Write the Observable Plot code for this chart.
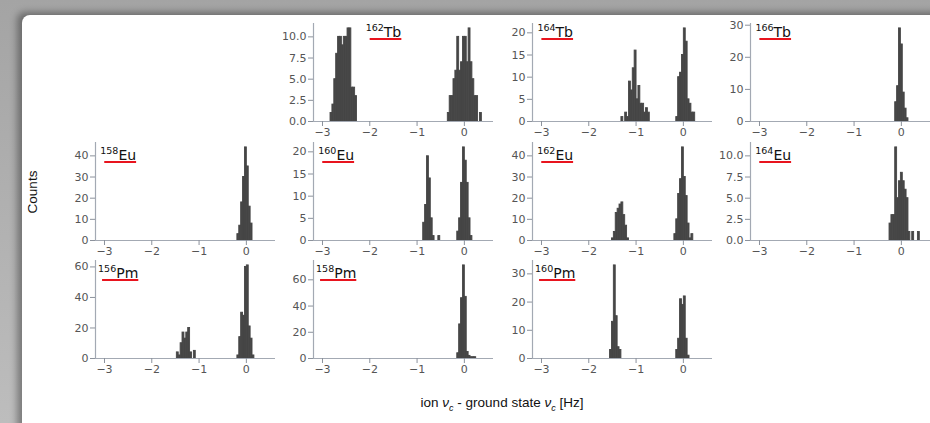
<!DOCTYPE html>
<html><head><meta charset="utf-8">
<script src="https://cdn.jsdelivr.net/npm/d3@7"></script>
<script src="https://cdn.jsdelivr.net/npm/@observablehq/plot@0.6"></script>
<style>
body{margin:0;background:#fff;}
#outer{position:relative;width:930px;height:423px;overflow:hidden;background:linear-gradient(#a4a4a4,#bdbdbd);}
#page{position:absolute;left:22px;top:15px;width:930px;height:430px;background:#fff;border-top-left-radius:8px;box-shadow:-5px -3px 7px rgba(0,0,0,0.35);}
.panel{position:absolute;}
.lab{position:absolute;font-family:"Liberation Sans",Arial,sans-serif;font-size:13.5px;color:#111;white-space:nowrap;}
</style></head><body>
<div id="outer"><div id="page"></div>
<div class="lab" id="ylab" style="left:32px;top:192px;transform:translate(-50%,-50%) rotate(-90deg);">Counts</div>
<div class="lab" id="xlab" style="left:502px;top:404px;transform:translate(-50%,-50%);">ion <i>ν</i><sub style="font-size:9px;"><i>c</i></sub> - ground state <i>ν</i><sub style="font-size:9px;"><i>c</i></sub> [Hz]</div>
</div>
<script>
const binWidth = 0.04;
const xTicks = [-3, -2, -1, 0];

// bin left edges (Hz) and counts
const tb162_x = [-2.83,-2.79,-2.75,-2.71,-2.67,-2.63,-2.59,-2.55,-2.51,-2.47,-2.43,-2.39,-2.35,-2.31,-0.35,-0.31,-0.27,-0.23,-0.19,-0.15,-0.11,-0.07,-0.03,0.01,0.05,0.09,0.13,0.17,0.21,0.25,0.33];
const tb162_n = [1,2,5,8,10,10,9,10,10,11,11,4,4,3,1,3,3,5,6,10,6,7,10,10,7,11,7,5,3,3,1];

const tb164_x = [-1.31,-1.23,-1.19,-1.15,-1.11,-1.07,-1.03,-0.99,-0.95,-0.91,-0.87,-0.83,-0.79,-0.75,-0.15,-0.11,-0.07,-0.03,0.01,0.05,0.09,0.13,0.17,0.21];
const tb164_n = [1,2,1,9,7,12,16,5,8,4,4,2,3,2,1,10,11,15,21,18,5,4,2,2];

const tb166_x = [-0.13,-0.09,-0.05,-0.01,0.03,0.07,0.11];
const tb166_n = [6,11,29,24,9,4,1];

const eu158_x = [-0.19,-0.15,-0.11,-0.07,-0.03,0.01,0.05,0.09];
const eu158_n = [3,7,18,30,44,35,16,8];

const eu160_x = [-0.87,-0.83,-0.79,-0.75,-0.71,-0.67,-0.55,-0.15,-0.11,-0.07,-0.03,0.01,0.05,0.09,0.13];
const eu160_n = [4,8,19,14,5,1,1,2,5,13,21,18,13,5,1];

const eu162_x = [-1.51,-1.47,-1.43,-1.39,-1.35,-1.31,-1.27,-1.23,-1.19,-0.19,-0.15,-0.11,-0.07,-0.03,0.01,0.05,0.09,0.13,0.17];
const eu162_n = [1,4,13,15,17,18,12,7,1,3,10,22,29,44,30,21,8,1,3];

const eu164_x = [-0.25,-0.21,-0.17,-0.13,-0.09,-0.05,-0.01,0.03,0.07,0.11,0.15,0.23,0.35];
const eu164_n = [2,3,3,11,5,7,8,7,6,5,1,1,1];

const pm156_x = [-1.47,-1.43,-1.39,-1.35,-1.31,-1.27,-1.23,-1.19,-1.11,-0.19,-0.15,-0.11,-0.07,-0.03,0.01,0.05,0.09,0.13];
const pm156_n = [4,2,10,17,13,17,20,4,5,2,14,30,28,60,61,21,13,2];

const pm158_x = [-0.15,-0.11,-0.07,-0.03,0.01,0.05,0.09,0.13,0.17,0.21];
const pm158_n = [4,26,46,71,47,5,2,1,1,1];

const pm160_x = [-1.55,-1.51,-1.47,-1.43,-1.39,-1.35,-0.15,-0.11,-0.07,-0.03,0.01,0.05,0.09];
const pm160_n = [3,13,33,15,4,3,3,7,21,19,22,7,1];

// panel layout: [mass, element, row, col, xs, ns, yTicks, yFormat, labelX]
const panels = [
  ["162","Tb",0,1,tb162_x,tb162_n,[0,2.5,5,7.5,10],".1f",-1.7],
  ["164","Tb",0,2,tb164_x,tb164_n,[0,5,10,15,20],"d",-2.7],
  ["166","Tb",0,3,tb166_x,tb166_n,[0,10,20,30],"d",-2.7],
  ["158","Eu",1,0,eu158_x,eu158_n,[0,10,20,30,40],"d",-2.7],
  ["160","Eu",1,1,eu160_x,eu160_n,[0,5,10,15,20],"d",-2.7],
  ["162","Eu",1,2,eu162_x,eu162_n,[0,10,20,30,40],"d",-2.7],
  ["164","Eu",1,3,eu164_x,eu164_n,[0,2.5,5,7.5,10],".1f",-2.7],
  ["156","Pm",2,0,pm156_x,pm156_n,[0,20,40,60],"d",-2.7],
  ["158","Pm",2,1,pm158_x,pm158_n,[0,20,40,60],"d",-2.7],
  ["160","Pm",2,2,pm160_x,pm160_n,[0,10,20,30],"d",-2.7]
];

const colAxisX = [95, 313, 532, 750];
const rowTop = [23, 142, 260];
const labelBase = [14, 18, 18];
const W = 180, H = 98, ML = 40, MR = 6, MT = 6, MB = 24;
const xDomain = [-3.19, 0.616];
const outer = document.getElementById("outer");

for (const [mass, el, row, col, xs, ns, yt, fmt, lx] of panels) {
  const data = xs.map((x, i) => ({x1: x, x2: x + binWidth, n: ns[i]}));
  const ymax = d3.max(ns) / 0.95;
  const chart = Plot.plot({
    width: W + ML + MR, height: H + MT + MB,
    marginLeft: ML, marginRight: MR, marginTop: MT, marginBottom: MB,
    style: {fontFamily: "DejaVu Sans, Verdana, sans-serif", fontSize: "11px", background: "transparent", overflow: "visible"},
    x: {domain: xDomain, label: null},
    y: {domain: [0, ymax], label: null},
    marks: [
      Plot.rectY(data, {x1: "x1", x2: "x2", y: "n", fill: "#464646", stroke: "#464646", strokeWidth: 0.9, inset: 0}),
      Plot.ruleY([0], {stroke: "#a3a9b3", strokeWidth: 1.2}),
      Plot.ruleX([xDomain[0]], {stroke: "#a3a9b3", strokeWidth: 1.2}),
      Plot.axisX({ticks: xTicks, tickFormat: d3.format("d"), tickSize: 5, tickPadding: 2, stroke: "#8c929c", fill: "#555", label: null, fontSize: 11}),
      Plot.axisY({ticks: yt, tickFormat: d3.format(fmt), tickSize: 5, tickPadding: 2, stroke: "#8c929c", fill: "#555", label: null, fontSize: 11})
    ]
  });
  chart.classList.add("panel");
  chart.style.left = (colAxisX[col] - ML) + "px";
  chart.style.top = (rowTop[row] - MT) + "px";
  outer.appendChild(chart);

  const sx = chart.scale("x");
  const svg = d3.select(chart);
  const by = MT + labelBase[row];
  const t = svg.append("text")
    .attr("x", sx.apply(lx)).attr("y", by)
    .attr("text-anchor", "middle")
    .attr("font-family", "DejaVu Sans, Verdana, sans-serif")
    .attr("fill", "#111");
  t.append("tspan").attr("font-size", 9.5).attr("dy", -6).text(mass);
  t.append("tspan").attr("font-size", 14).attr("dy", 6).text(el);
  const bb = t.node().getBBox();
  svg.append("line")
    .attr("x1", bb.x + 4).attr("x2", bb.x + bb.width)
    .attr("y1", by + 2).attr("y2", by + 2)
    .attr("stroke", "#e8141e").attr("stroke-width", 2);
}
</script>
</body></html>
